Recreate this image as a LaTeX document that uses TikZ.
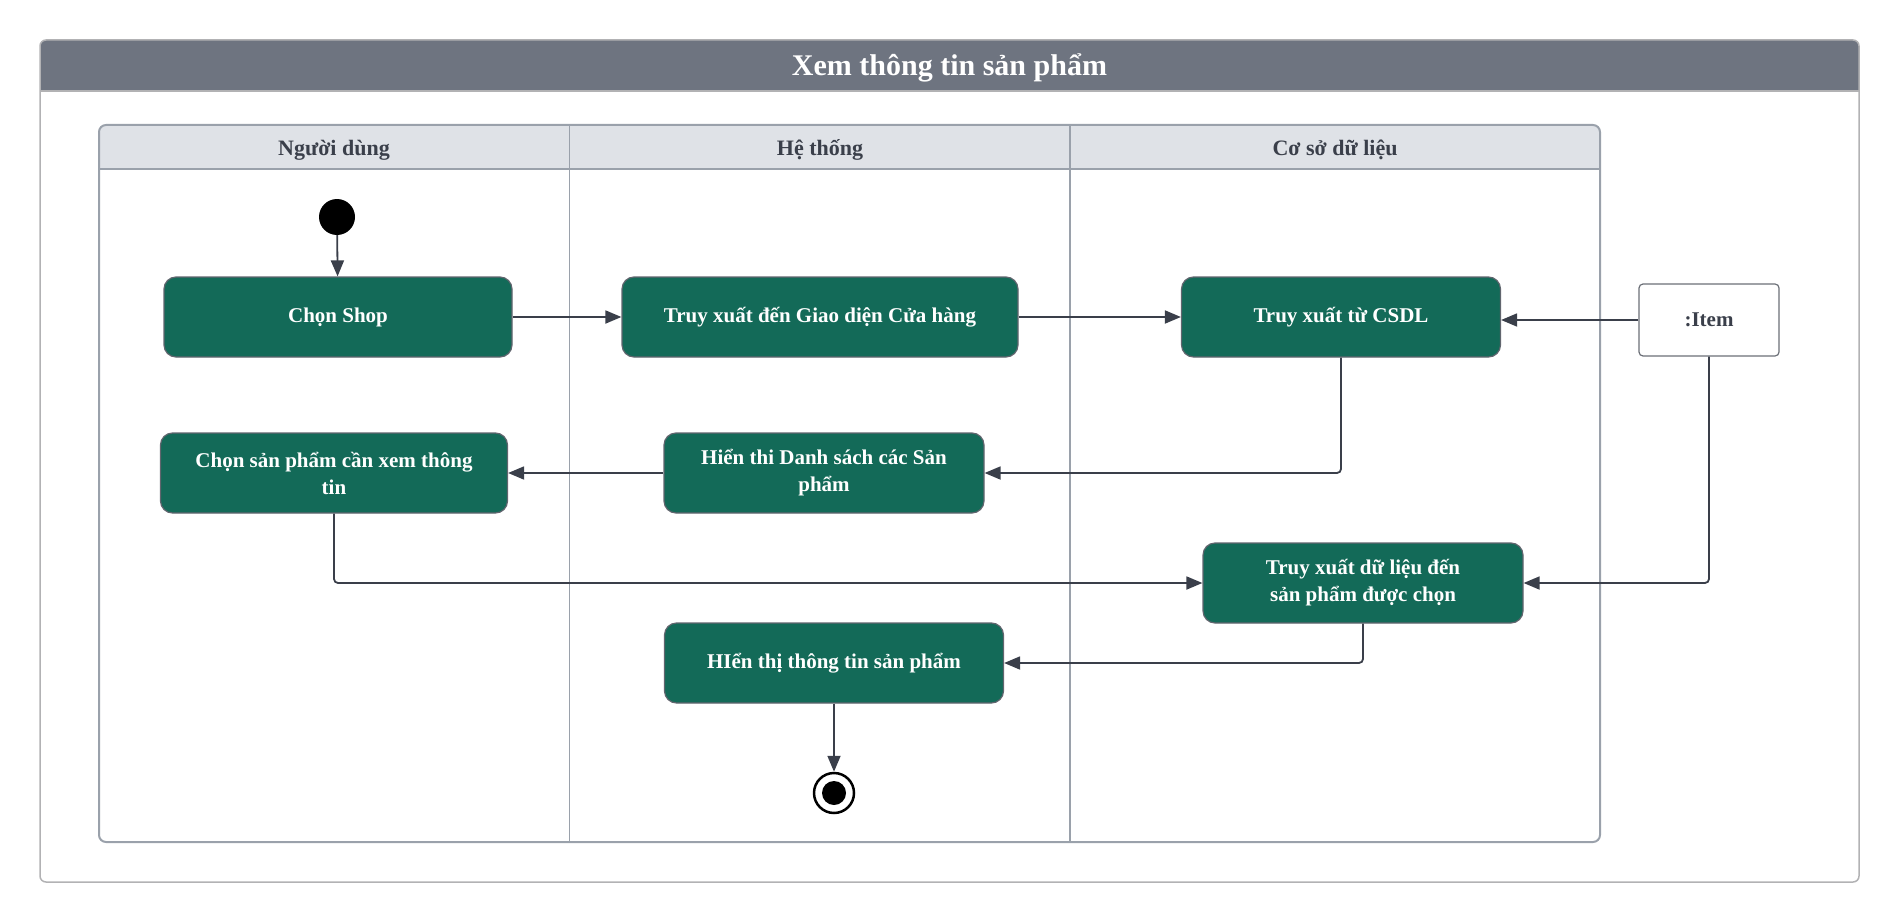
\documentclass[tikz,border=0pt]{standalone}
\usepackage{fontspec}
\setmainfont{Liberation Serif}
\usetikzlibrary{arrows.meta, positioning, calc}
\definecolor{actgreen}{RGB}{19, 106, 88}
\definecolor{lineink}{RGB}{58, 63, 74}
\definecolor{titlegray}{RGB}{110, 116, 128}
\definecolor{lanegray}{RGB}{223, 226, 231}
\definecolor{laneedge}{RGB}{154, 161, 171}
\definecolor{frameedge}{RGB}{178, 178, 180}

\begin{document}
\begin{tikzpicture}[x=1pt, y=-1pt,
  act/.style={draw=lineink!80, fill=actgreen, rounded corners=12pt, minimum height=80pt, align=center, text=white, font=\fontsize{21}{27}\selectfont\bfseries, line width=1.2pt},
  objbox/.style={draw=lineink!75, fill=white, rounded corners=4pt, minimum width=140pt, minimum height=72pt, text=lineink, font=\fontsize{21}{27}\selectfont\bfseries, line width=1.2pt},
  startdot/.style={circle, fill=black, minimum size=36pt, inner sep=0pt},
  enddot/.style={circle, draw=black, fill=white, line width=2.5pt, minimum size=40pt, inner sep=0pt, path picture={\fill[black] (path picture bounding box.center) circle (12pt);}},
  lanetitle/.style={text=lineink, font=\fontsize{22}{26}\selectfont\bfseries},
  flow/.style={draw=lineink, line width=1.8pt, -{Triangle[length=16pt, width=13pt]}, rounded corners=4pt}
]
  \useasboundingbox (0,0) rectangle (1900,923);

  % frame and title
  \fill[titlegray] (40,91) [rounded corners=6pt] -- (40,40) -- (1859,40) [sharp corners] -- (1859,91) -- cycle;
  \draw[frameedge, line width=1.5pt, rounded corners=6pt] (40,40) rectangle (1859,882);
  \draw[frameedge, line width=1.5pt] (40,91) -- (1859,91);
  \node[text=white, font=\fontsize{30}{34}\selectfont\bfseries] (title) at (949.5,68) {Xem thông tin sản phẩm};

  % swimlanes
  \fill[lanegray] (99,169) [rounded corners=7pt] -- (99,125) -- (1600,125) [sharp corners] -- (1600,169) -- cycle;
  \draw[laneedge, line width=2pt, rounded corners=7pt] (99,125) rectangle (1600,842);
  \draw[laneedge, line width=2pt] (99,169) -- (1600,169);
  \draw[laneedge, line width=1.5pt] (569.5,125) -- (569.5,842);
  \draw[laneedge, line width=1.5pt] (1070,125) -- (1070,842);
  \node[lanetitle] (lane1) at (334,150) {Người dùng};
  \node[lanetitle] (lane2) at (820,150) {Hệ thống};
  \node[lanetitle] (lane3) at (1335,150) {Cơ sở dữ liệu};

  % activities
  \node[startdot] (start) at (337,217) {};
  \node[act, minimum width=348pt] (shop) at (338,317) {Chọn Shop};
  \node[act, minimum width=396pt] (giaodien) at (820,317) {Truy xuất đến Giao diện Cửa hàng};
  \node[act, minimum width=319pt] (csdl) at (1341,317) {Truy xuất từ CSDL};
  \node[objbox] (item) at (1709,320) {:Item};
  \node[act, minimum width=347pt] (chonsp) at (334,473) {Chọn sản phẩm cần xem thông\\tin};
  \node[act, minimum width=320pt] (dssp) at (824,473) {Hiển thi Danh sách các Sản\\phẩm};
  \node[act, minimum width=320pt] (truyxuat) at (1363,583) {Truy xuất dữ liệu đến\\sản phẩm được chọn};
  \node[act, minimum width=339pt] (hienthi) at (834,663) {HIển thị thông tin sản phẩm};
  \node[enddot] (stop) at (834,793) {};

  % flows
  \draw[flow] (start) -- (shop);
  \draw[flow] (shop) -- (giaodien);
  \draw[flow] (giaodien) -- (csdl);
  \draw[flow] (item.west) -- (item.west -| csdl.east);
  \draw[flow] (csdl.south) |- (dssp.east);
  \draw[flow] (dssp) -- (chonsp);
  \draw[flow] (chonsp.south) |- (truyxuat.west);
  \draw[flow] (item.south) |- (truyxuat.east);
  \draw[flow] (truyxuat.south) |- (hienthi.east);
  \draw[flow] (hienthi) -- (stop);
\end{tikzpicture}
\end{document}
